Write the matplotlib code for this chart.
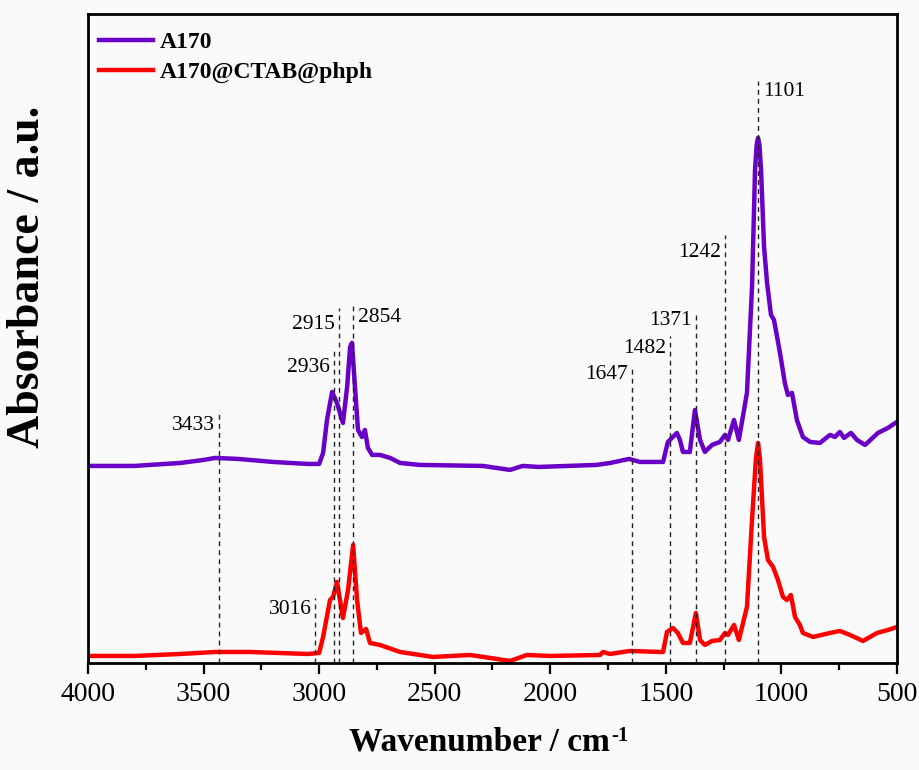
import matplotlib
matplotlib.use("Agg")
import matplotlib.pyplot as plt

plt.rcParams["font.family"] = ["Liberation Serif", "DejaVu Serif"]

# ---- spectra (wavenumber / cm-1, absorbance a.u.; A170 already offset) ----
a170_wn = [4000, 3800, 3600, 3500, 3450, 3350, 3200, 3050, 3000, 2983, 2966,
           2944, 2923, 2897, 2879, 2866, 2858, 2845, 2832, 2815, 2802, 2789,
           2771, 2737, 2693, 2650, 2564, 2291, 2174, 2120, 2050, 1800, 1740,
           1659, 1612, 1512, 1491, 1452, 1439, 1426, 1396, 1374, 1352, 1331,
           1300, 1266, 1244, 1231, 1205, 1184, 1149, 1127, 1114, 1107, 1101,
           1095, 1088, 1075, 1062, 1045, 1032, 1006, 985, 972, 954, 933, 907,
           876, 833, 790, 768, 747, 729, 699, 673, 638, 582, 539, 500]
a170_abs = [1.97, 1.97, 2.00, 2.03, 2.05, 2.04, 2.01, 1.99, 1.99, 2.10, 2.43,
            2.71, 2.60, 2.40, 2.76, 3.16, 3.20, 2.76, 2.33, 2.26, 2.33, 2.15,
            2.08, 2.08, 2.05, 2.00, 1.98, 1.97, 1.93, 1.97, 1.96, 1.98, 2.00,
            2.04, 2.01, 2.01, 2.21, 2.30, 2.23, 2.11, 2.11, 2.53, 2.23, 2.11,
            2.18, 2.21, 2.28, 2.23, 2.43, 2.23, 2.70, 3.76, 4.93, 5.18, 5.25,
            5.18, 4.93, 4.16, 3.80, 3.48, 3.43, 3.10, 2.80, 2.68, 2.70, 2.43,
            2.26, 2.21, 2.20, 2.28, 2.26, 2.31, 2.25, 2.30, 2.23, 2.18, 2.30,
            2.35, 2.41]

mod_wn = [4000, 3800, 3600, 3450, 3300, 3050, 3000, 2983, 2953, 2940, 2923,
          2897, 2875, 2853, 2836, 2819, 2797, 2780, 2737, 2650, 2507, 2347,
          2174, 2101, 2001, 1785, 1772, 1742, 1655, 1525, 1512, 1495, 1469,
          1448, 1426, 1396, 1370, 1352, 1331, 1300, 1266, 1244, 1231, 1205,
          1184, 1149, 1127, 1110, 1101, 1093, 1088, 1075, 1058, 1036, 1015,
          993, 976, 959, 941, 920, 907, 863, 790, 747, 703, 647, 586, 539,
          500]
mod_abs = [0.07, 0.07, 0.09, 0.11, 0.11, 0.09, 0.10, 0.26, 0.63, 0.66, 0.81,
           0.45, 0.73, 1.18, 0.63, 0.30, 0.34, 0.20, 0.18, 0.11, 0.06, 0.08,
           0.02, 0.08, 0.07, 0.08, 0.11, 0.09, 0.12, 0.11, 0.11, 0.31, 0.35,
           0.30, 0.20, 0.20, 0.50, 0.23, 0.18, 0.22, 0.23, 0.30, 0.28, 0.38,
           0.23, 0.56, 1.43, 2.05, 2.20, 2.05, 1.83, 1.26, 1.03, 0.96, 0.83,
           0.66, 0.63, 0.68, 0.46, 0.38, 0.30, 0.26, 0.30, 0.32, 0.28, 0.22,
           0.30, 0.33, 0.36]

# ---- peak markers ----
peak_wn = [3433, 3016, 2936, 2915, 2854, 1647, 1482, 1371, 1242, 1101]
peak_top = [2.53, 0.65, 3.12, 3.55, 3.60, 2.98, 3.27, 3.49, 4.28, 5.82]
peak_label_y = [2.37, 0.53, 2.95, 3.38, 3.45, 2.88, 3.14, 3.42, 4.10, 5.71]
peak_right = [False, False, False, False, True, False, False, False, False, True]

bg = "#fafafa"
fig = plt.figure(figsize=(9.19, 7.70), dpi=100, facecolor=bg)
ax = fig.add_axes([0.0958, 0.139, 0.8802, 0.843], facecolor=bg)

for wn, top, ly, right in zip(peak_wn, peak_top, peak_label_y, peak_right):
    ax.plot([wn, wn], [0, top], color="#222222", lw=1.0,
            linestyle=(0, (3.5, 3)), zorder=3)
    if right:
        ax.annotate(str(wn), (wn, ly), xytext=(4, 0), textcoords="offset points",
                    ha="left", va="center", fontsize=15.5)
    else:
        ax.annotate(str(wn), (wn, ly), xytext=(-3, 0), textcoords="offset points",
                    ha="right", va="center", fontsize=15.5)

ax.plot(a170_wn, a170_abs, color="#6a00c8", lw=3.2, label="A170", zorder=2,
        solid_joinstyle="round")
ax.plot(mod_wn, mod_abs, color="#ff0000", lw=3.2, label="A170@CTAB@phph",
        zorder=2, solid_joinstyle="round")

ax.set_xlim(4000, 500)
ax.set_ylim(0, 6.49)
ax.set_xticks([4000, 3500, 3000, 2500, 2000, 1500, 1000, 500])
ax.set_xticks([3750, 3250, 2750, 2250, 1750, 1250, 750], minor=True)
ax.set_yticks([])
ax.tick_params(axis="x", which="major", direction="out", length=8, width=1.6,
               labelsize=20, pad=6)
ax.tick_params(axis="x", which="minor", direction="out", length=5, width=1.6)
for s in ax.spines.values():
    s.set_linewidth(2)

ax.set_xlabel("Wavenumber / cm", fontsize=24, fontweight="bold", labelpad=14)
ax.xaxis.label.set_x(0.484)
ax.set_ylabel("Absorbance / a.u.", fontsize=33, fontweight="bold")
ax.yaxis.set_label_coords(-0.048, 0.595)

leg = ax.legend(loc="upper left", bbox_to_anchor=(0, 0.989), frameon=False,
                prop={"weight": "bold", "size": 17}, handlelength=2.3,
                handletextpad=0.3, labelspacing=0.36,
                borderaxespad=0.05)

# superscript "-1" after the x label
fig.canvas.draw()
bb = ax.xaxis.label.get_window_extent()
W, H = fig.bbox.width, fig.bbox.height
fig.text((bb.x1 + 1) / W, (bb.y1 + 1) / H, "-1", fontsize=15,
         fontweight="bold", ha="left", va="top")

fig.savefig("out.png", dpi=100, facecolor=bg)
